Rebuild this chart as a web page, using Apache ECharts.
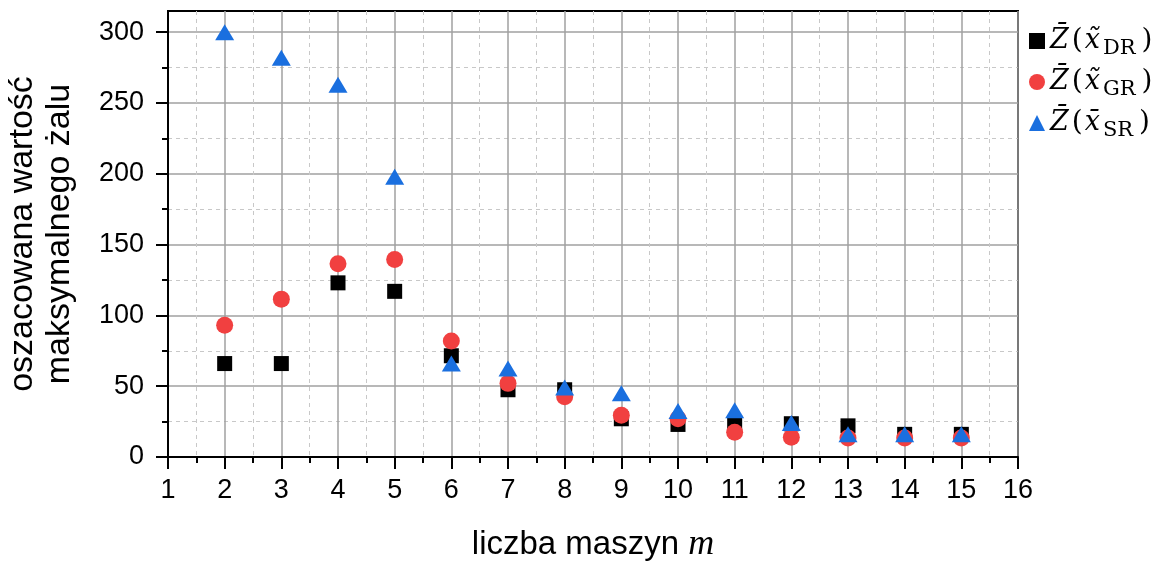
<!DOCTYPE html>
<html>
<head>
<meta charset="utf-8">
<script src="https://cdn.jsdelivr.net/npm/echarts@6/dist/echarts.min.js"></script>
<style>html,body{margin:0;padding:0;background:#fff}#c{width:1167px;height:561px}</style>
</head>
<body>
<div id="c"></div>
<script>
const machines = [2,3,4,5,6,7,8,9,10,11,12,13,14,15];
const valuesDR = [66,66,123,117,71.5,47.5,47.5,27,23,24,23.5,22,16,16];
const valuesGR = [93,111.5,136.5,139.5,82,52,42.5,29.5,27,17.5,14,13.5,13.5,13.5];
const valuesSR = [300,282,263,198,66,62.5,49,45,32.5,33,24,16,16,16];
const yMajorTicks = [0,50,100,150,200,250,300];
const yMinorTicks = [25,75,125,175,225,275];
const seriesNames = ['DR','GR','SR'];

const pair = (vals) => machines.map((m,i)=>[m, vals[i]]);
const chart = echarts.init(document.getElementById('c'), null, {renderer:'canvas'});
const sansFont = 'Liberation Sans, Arial, sans-serif';
const serif = 'DejaVu Serif, Liberation Serif, serif';
const timesFont = 'Liberation Serif, serif';

const legendFmt = (name) => {
  const acc = name === 'SR' ? '\u0304' : '\u0303';
  return '{z|Z\u0304}{lp|(}{it|x' + acc + '}{sub|' + name + '}{rp|)}';
};

chart.setOption({
  animation: false,
  backgroundColor: '#fff',
  grid: {left:168, right:149, top:11, bottom:104, show:true, borderColor:'#000', borderWidth:2,
         backgroundColor:'transparent', outerBoundsMode:'none', containLabel:false},
  legend: {
    orient:'vertical', left:1024, top:22, itemGap:9, itemWidth:16, itemHeight:16,
    data: seriesNames,
    formatter: legendFmt,
    textStyle: {
      padding:[0,0,0,0],
      rich: {
        z: {fontFamily: serif, fontStyle:'italic', fontSize:27, color:'#000', lineHeight:36, padding:[0,3,0,0]},
        lp: {fontFamily: serif, fontSize:28, color:'#000', lineHeight:36, padding:[0,2,0,0]},
        it: {fontFamily: serif, fontStyle:'italic', fontSize:27, color:'#000', lineHeight:36},
        rp: {fontFamily: serif, fontSize:28, color:'#000', lineHeight:36, padding:[0,0,0,6]},
        sub:{fontFamily: serif, fontSize:21, color:'#000', verticalAlign:'bottom', lineHeight:26, padding:[0,0,0,3]}
      }
    }
  },
  xAxis: [{
    type:'value', min:1, max:16, interval:1,
    name:'{n|liczba maszyn }{i|m}', nameLocation:'middle', nameGap:70,
    nameTextStyle:{rich:{n:{fontFamily:sansFont, fontSize:33, color:'#000'}, i:{fontFamily:timesFont, fontStyle:'italic', fontSize:36, color:'#000'}}},
    axisLine:{show:true, lineStyle:{color:'#000', width:2}},
    axisTick:{show:true, inside:false, length:12, lineStyle:{color:'#000', width:2}},
    minorTick:{show:true, splitNumber:2, length:6, lineStyle:{color:'#000', width:2}},
    axisLabel:{fontFamily:sansFont, fontSize:27, color:'#000', margin:20},
    splitLine:{show:true, lineStyle:{color:'#a0a0a0', width:1.5}},
    minorSplitLine:{show:true, lineStyle:{color:'#c8c8c8', width:1, type:[4,4]}}
  }],
  yAxis: [{
    type:'value', min:0, max:315, interval:50, position:'left',
    name:'oszacowana wartość\nmaksymalnego żalu', nameLocation:'middle', nameGap:90, nameRotate:90,
    nameTextStyle:{fontFamily:sansFont, fontSize:34, color:'#000', lineHeight:37},
    axisLine:{show:true, lineStyle:{color:'#000', width:2}},
    axisTick:{show:true, inside:false, length:12, customValues:yMajorTicks, lineStyle:{color:'#000', width:2}},
    axisLabel:{fontFamily:sansFont, fontSize:27, color:'#000', margin:24, customValues:yMajorTicks,
      formatter:(v)=> (v % 50 === 0 ? String(v) : '')},
    splitLine:{show:true, lineStyle:{color:'#a0a0a0', width:1.5}}
  },{
    type:'value', min:0, max:315, position:'left', offset:0,
    axisLine:{show:false},
    axisTick:{show:true, inside:false, length:6, customValues:yMinorTicks, lineStyle:{color:'#000', width:2}},
    axisLabel:{show:false},
    splitLine:{show:true, lineStyle:{color:'#c8c8c8', width:1, type:[4,4]}}
  }],
  series: [
    {name:'DR', type:'scatter', data: pair(valuesDR), symbol:'rect', symbolSize:15, itemStyle:{color:'#000', opacity:1}, z:3},
    {name:'GR', type:'scatter', data: pair(valuesGR), symbol:'circle', symbolSize:17, itemStyle:{color:'#F14040', opacity:1}, z:4},
    {name:'SR', type:'scatter', data: pair(valuesSR), symbol:'triangle', symbolSize:[19,16], itemStyle:{color:'#1A6FDF', opacity:1}, z:5}
  ]
});
</script>
</body>
</html>
